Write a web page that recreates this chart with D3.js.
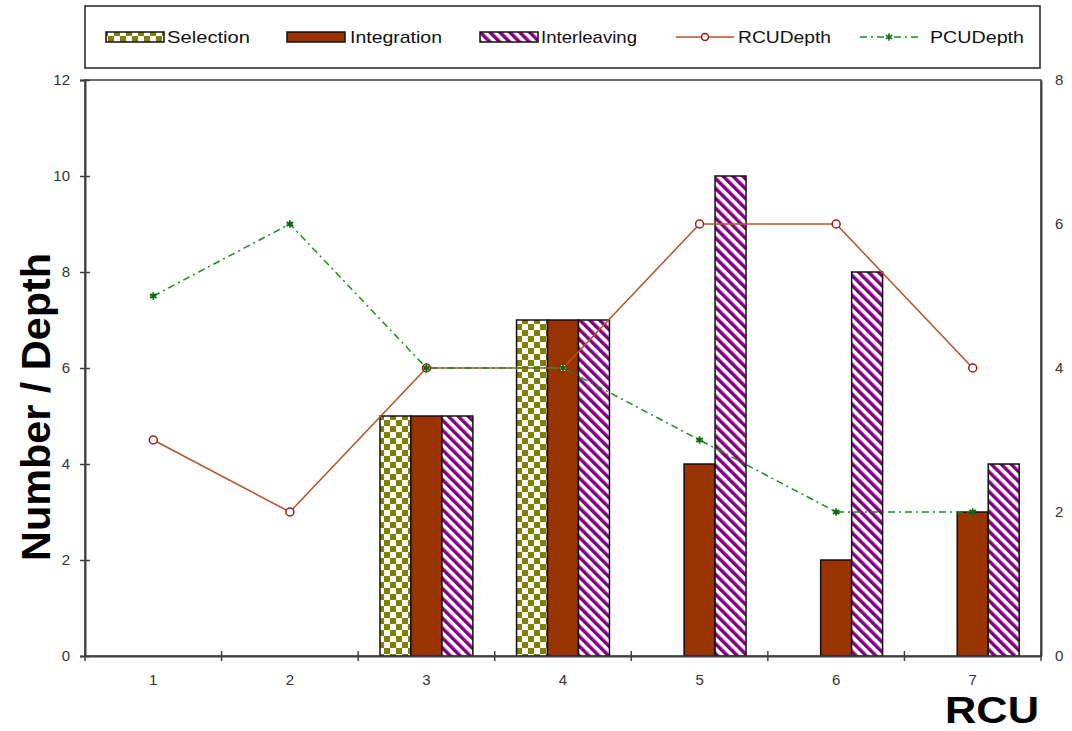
<!DOCTYPE html>
<html>
<head>
<meta charset="utf-8">
<script src="https://cdn.jsdelivr.net/npm/d3@7"></script>
<style>
  body { margin: 0; background: #fff; }
  svg { display: block; font-family: "Liberation Sans", Arial, sans-serif; }
</style>
</head>
<body>
<svg id="chart" width="1072" height="731"></svg>
<script>
// RCU categories and series
const categories = ["1", "2", "3", "4", "5", "6", "7"];
const selection = [0, 0, 5, 7, 0, 0, 0];
const integration = [0, 0, 5, 7, 4, 2, 3];
const interleaving = [0, 0, 5, 7, 10, 8, 4];
const rcuDepth = [3, 2, 4, 4, 6, 6, 4];
const pcuDepth = [5, 6, 4, 4, 3, 2, 2];
const leftTicks = [0, 2, 4, 6, 8, 10, 12];
const rightTicks = [0, 2, 4, 6, 8];

const barSeries = [
  { name: "Selection", values: selection, fill: "url(#checker)" },
  { name: "Integration", values: integration, fill: "#993300" },
  { name: "Interleaving", values: interleaving, fill: "url(#stripes)" }
];

const svg = d3.select("#chart");
const m = { left: 85, right: 1041, top: 80, bottom: 656 };

// Fill patterns
const defs = svg.append("defs");
const chk = defs.append("pattern").attr("id", "checker")
  .attr("patternUnits", "userSpaceOnUse").attr("width", 12).attr("height", 12);
chk.append("rect").attr("width", 12).attr("height", 12).attr("fill", "#fff");
chk.append("rect").attr("width", 6).attr("height", 6).attr("fill", "#808000");
chk.append("rect").attr("x", 6).attr("y", 6).attr("width", 6).attr("height", 6).attr("fill", "#808000");

const stp = defs.append("pattern").attr("id", "stripes")
  .attr("patternUnits", "userSpaceOnUse").attr("width", 7).attr("height", 7)
  .attr("patternTransform", "rotate(-45)");
stp.append("rect").attr("width", 7).attr("height", 7).attr("fill", "#fff");
stp.append("rect").attr("width", 3.5).attr("height", 7).attr("fill", "#800080");

// Scales
const x = d3.scaleBand().domain(categories).range([m.left, m.right]).paddingInner(0).paddingOuter(0);
const inner = d3.scaleBand().domain(barSeries.map(d => d.name))
  .range([0, x.bandwidth()]).paddingInner(0).paddingOuter(0.705);
const yL = d3.scaleLinear().domain([0, 12]).range([m.bottom, m.top]);
const yR = d3.scaleLinear().domain([0, 8]).range([m.bottom, m.top]);

// Plot frame
svg.append("rect").attr("x", m.left).attr("y", m.top)
  .attr("width", m.right - m.left).attr("height", m.bottom - m.top)
  .attr("fill", "none").attr("stroke", "#404040").attr("stroke-width", 1.5);

// Bars
barSeries.forEach(s => {
  svg.append("g").selectAll("rect").data(s.values.map((v, i) => ({ v, c: categories[i] })))
    .join("rect")
    .filter(d => d.v > 0)
    .attr("x", d => x(d.c) + inner(s.name))
    .attr("y", d => yL(d.v))
    .attr("width", inner.bandwidth())
    .attr("height", d => yL(0) - yL(d.v))
    .attr("fill", s.fill)
    .attr("stroke", "#111").attr("stroke-width", 1.5);
});

// Axes
const axisColor = "#404040";
const gL = svg.append("g").attr("transform", `translate(${m.left},0)`)
  .call(d3.axisLeft(yL).tickValues(leftTicks).tickSize(5).tickPadding(10));
gL.selectAll(".tick line").attr("x2", 5).attr("x1", -5);
const gR = svg.append("g").attr("transform", `translate(${m.right},0)`)
  .call(d3.axisRight(yR).tickValues(rightTicks).tickSize(0).tickPadding(14));
const gB = svg.append("g").attr("transform", `translate(0,${m.bottom})`)
  .call(d3.axisBottom(x).tickSize(0).tickPadding(18));
// category boundary ticks
const bounds = categories.map(c => x(c)).concat([m.right]);
gB.selectAll(".bound").data(bounds).join("line").attr("class", "bound")
  .attr("x1", d => d).attr("x2", d => d).attr("y1", -5).attr("y2", 5)
  .attr("stroke", axisColor).attr("stroke-width", 1.5);

[gL, gR, gB].forEach(g => {
  g.select(".domain").attr("stroke", axisColor).attr("stroke-width", 2);
  g.selectAll(".tick line").attr("stroke", axisColor).attr("stroke-width", 1.5);
  g.selectAll(".tick text").attr("font-size", 15).attr("fill", "#333")
    .attr("font-family", "'Liberation Sans', Arial, sans-serif");
});

// Lines on the right axis
const line = d3.line().x((d, i) => x(categories[i]) + x.bandwidth() / 2).y(d => yR(d));
svg.append("path").datum(rcuDepth).attr("d", line)
  .attr("fill", "none").attr("stroke", "#b5532a").attr("stroke-width", 1.5);
svg.append("path").datum(pcuDepth).attr("d", line)
  .attr("fill", "none").attr("stroke", "#1a8c1a").attr("stroke-width", 1.5)
  .attr("stroke-dasharray", "7,4,2,4");

svg.append("g").selectAll("circle").data(rcuDepth).join("circle")
  .attr("cx", (d, i) => x(categories[i]) + x.bandwidth() / 2)
  .attr("cy", d => yR(d)).attr("r", 4)
  .attr("fill", "#fff").attr("stroke", "#a01818").attr("stroke-width", 1.5);

const star = d3.symbol().type(d3.symbolAsterisk).size(40);
svg.append("g").selectAll("path").data(pcuDepth).join("path")
  .attr("transform", (d, i) => `translate(${x(categories[i]) + x.bandwidth() / 2},${yR(d)})`)
  .attr("d", star).attr("fill", "none").attr("stroke", "#0a6a0a").attr("stroke-width", 1.8);

// Axis titles
svg.append("text").attr("transform", `translate(50,407) rotate(-90)`)
  .attr("text-anchor", "middle").attr("font-size", 40).attr("font-weight", "bold")
  .attr("textLength", 308).attr("lengthAdjust", "spacingAndGlyphs")
  .attr("fill", "#000").text("Number / Depth");
svg.append("text").attr("x", 992).attr("y", 723).attr("text-anchor", "middle")
  .attr("font-size", 36).attr("font-weight", "bold")
  .attr("textLength", 94).attr("lengthAdjust", "spacingAndGlyphs")
  .attr("fill", "#000").text("RCU");

// Legend
const lg = svg.append("g");
lg.append("rect").attr("x", 85).attr("y", 6).attr("width", 955).attr("height", 62)
  .attr("fill", "#fff").attr("stroke", "#222").attr("stroke-width", 1.5);
const legendItems = [
  { name: "Selection", kind: "bar", fill: "url(#checker)", x: 106, tx: 167, tw: 83 },
  { name: "Integration", kind: "bar", fill: "#993300", x: 287, tx: 350, tw: 92 },
  { name: "Interleaving", kind: "bar", fill: "url(#stripes)", x: 480, tx: 541, tw: 96 },
  { name: "RCUDepth", kind: "rcu", x: 676, tx: 738, tw: 93 },
  { name: "PCUDepth", kind: "pcu", x: 860, tx: 930, tw: 94 }
];
const ly = 37;
legendItems.forEach(it => {
  if (it.kind === "bar") {
    lg.append("rect").attr("x", it.x).attr("y", ly - 5).attr("width", 58).attr("height", 10)
      .attr("fill", it.fill).attr("stroke", "#111").attr("stroke-width", 1.5);
  } else if (it.kind === "rcu") {
    lg.append("line").attr("x1", it.x).attr("x2", it.x + 58).attr("y1", ly).attr("y2", ly)
      .attr("stroke", "#b5532a").attr("stroke-width", 1.5);
    lg.append("circle").attr("cx", it.x + 29).attr("cy", ly).attr("r", 3.5)
      .attr("fill", "#fff").attr("stroke", "#a01818").attr("stroke-width", 1.5);
  } else {
    lg.append("line").attr("x1", it.x).attr("x2", it.x + 58).attr("y1", ly).attr("y2", ly)
      .attr("stroke", "#1a8c1a").attr("stroke-width", 1.5).attr("stroke-dasharray", "7,4,2,4");
    lg.append("path").attr("transform", `translate(${it.x + 29},${ly})`).attr("d", star)
      .attr("fill", "none").attr("stroke", "#0a6a0a").attr("stroke-width", 1.5);
  }
  lg.append("text").attr("x", it.tx).attr("y", ly + 6)
    .attr("font-size", 17).attr("textLength", it.tw).attr("lengthAdjust", "spacingAndGlyphs")
    .attr("fill", "#111").text(it.name);
});
</script>
</body>
</html>
